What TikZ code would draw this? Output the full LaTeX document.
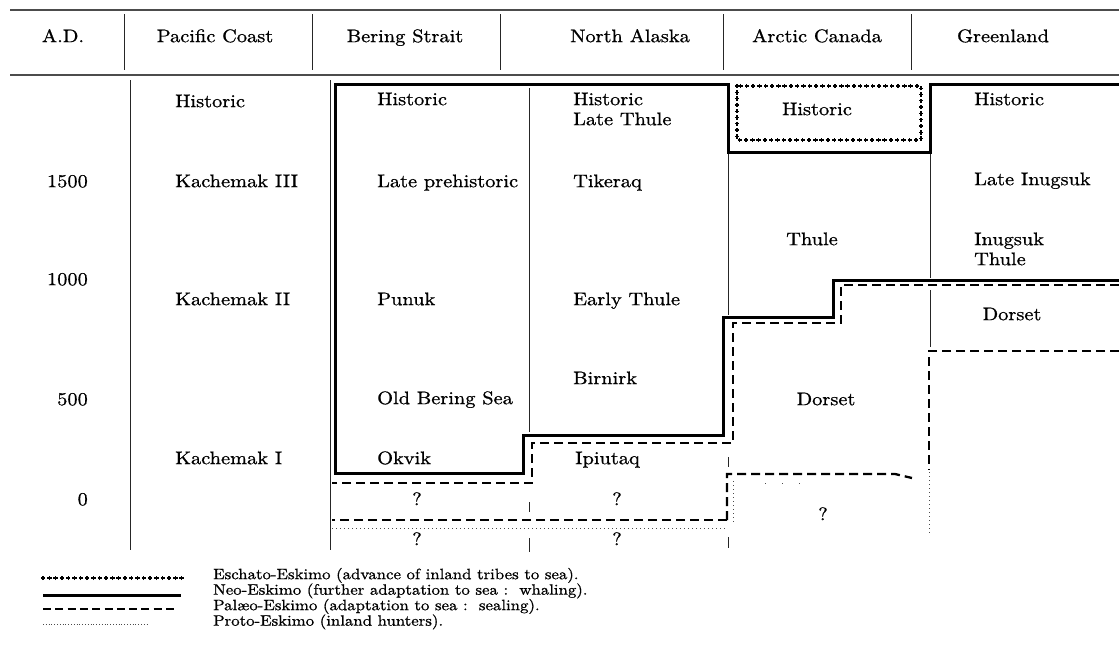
\documentclass[tikz,border=0pt]{standalone}
\usepackage{fontspec}
\setmainfont{lmroman10-regular.otf}[FakeStretch=1.12,FakeBold=0.9]
\usetikzlibrary{decorations.markings}
\tikzset{
  lab/.style={anchor=mid west, inner sep=0pt, font=\fontsize{18.2}{20}\selectfont},
  hdr/.style={anchor=mid, inner sep=0pt, font=\fontsize{18.2}{20}\selectfont},
  num/.style={anchor=mid east, inner sep=0pt, font=\fontsize{18.2}{20}\selectfont},
  lgd/.style={anchor=mid west, inner sep=0pt, font=\fontsize{15}{15}\selectfont},
  rulel/.style={line width=1.1pt, black!70},
  thin/.style={line width=0.8pt, black!85},
  neo/.style={line width=3pt, line join=miter},
  palaeo/.style={line width=2.3pt, dash pattern=on 9pt off 5pt},
  proto/.style={line width=0.9pt, black!70, dash pattern=on 1pt off 3pt},
  eschato/.style={postaction={decorate, decoration={markings,
      mark=between positions 0 and 1 step 6.3pt with {
        \draw[line width=1.3pt] (-2.2pt,0) -- (2.2pt,0) (0,-2.2pt) -- (0,2.2pt);}}}}
}
\begin{document}
\begin{tikzpicture}[x=1pt,y=-1pt]
\useasboundingbox (0,0) rectangle (1119,646);
% header rules
\draw[rulel] (10,10) -- (1119,10);
\draw[rulel] (10,75) -- (1119,75);
\foreach \xx in {124,312,500,723,911} \draw[thin] (\xx,14) -- (\xx,70);
\node[hdr] (hAD) at (63,40) {A.D.};
\node[hdr] (hPC) at (215,40) {Pacific Coast};
\node[hdr] (hBS) at (405,40) {Bering Strait};
\node[hdr] (hNA) at (630,40) {North Alaska};
\node[hdr] (hAC) at (817,40) {Arctic Canada};
\node[hdr] (hGL) at (1003,40) {Greenland};
% body thin column lines
\draw[thin] (130,80) -- (130,550);
\draw[thin] (330,80) -- (330,550);
\draw[thin] (529,88) -- (529,432) (529,502) -- (529,512) (529,538) -- (529,552);
\draw[thin] (728,152) -- (728,315) (728,457) -- (728,467) (728,537) -- (728,548);
\draw[thin] (930,152) -- (930,278) (930,290) -- (930,347);
% Neo-Eskimo
\draw[neo] (1119,280) -- (833,280) -- (833,317) -- (723,317) -- (723,435) -- (523,435)
  -- (523,473) -- (335,473) -- (335,84) -- (728,84) -- (728,152) -- (930,152) -- (930,84) -- (1119,84);
% Palaeo-Eskimo
\draw[palaeo] (1119,285) -- (841,285) -- (841,323) -- (733,323) -- (733,443) -- (532,443) -- (532,483) -- (332,483);
\draw[palaeo] (1119,351) -- (929,351) -- (929,470);
\draw[palaeo] (727,520) -- (727,474) -- (895,474) -- (912,478);
\draw[palaeo] (727,520) -- (332,520);
% Proto-Eskimo
\draw[proto] (332,528) -- (728,528);
\draw[proto] (733,481) -- (733,523);
\draw[proto] (929,472) -- (929,535);
\draw[proto, dash pattern=on 1pt off 16pt] (765,483) -- (810,483);
% Eschato-Eskimo
\path[eschato] (737,86) rectangle (921,140);
% dates
\node[num] (d1500) at (88,185) {1500};
\node[num] (d1000) at (88,283) {1000};
\node[num] (d500) at (88,403) {500};
\node[num] (d0) at (88,503) {0};
% Pacific Coast
\node[lab] (pc1) at (175,105) {Historic};
\node[lab] (pc2) at (175,185) {Kachemak III};
\node[lab] (pc3) at (175,303) {Kachemak II};
\node[lab] (pc4) at (175,462) {Kachemak I};
% Bering Strait
\node[lab] (bs1) at (377,103) {Historic};
\node[lab] (bs2) at (377,185) {Late prehistoric};
\node[lab] (bs3) at (377,303) {Punuk};
\node[lab] (bs4) at (377,402) {Old Bering Sea};
\node[lab] (bs5) at (377,462) {Okvik};
\node[hdr] (bsq1) at (417,503) {?};
\node[hdr] (bsq2) at (417,543) {?};
% North Alaska
\node[lab] (na1) at (573,103) {Historic};
\node[lab] (na2) at (573,123) {Late Thule};
\node[lab] (na3) at (573,185) {Tikeraq};
\node[lab] (na4) at (573,303) {Early Thule};
\node[lab] (na5) at (573,382) {Birnirk};
\node[lab] (na6) at (575,462) {Ipiutaq};
\node[hdr] (naq1) at (617,503) {?};
\node[hdr] (naq2) at (617,543) {?};
% Arctic Canada
\node[hdr] (ac1) at (817,113) {Historic};
\node[hdr] (ac2) at (812,243) {Thule};
\node[hdr] (ac3) at (826,403) {Dorset};
\node[hdr] (acq) at (823,518) {?};
% Greenland
\node[lab] (gl1) at (974,103) {Historic};
\node[lab] (gl2) at (974,183) {Late Inugsuk};
\node[lab] (gl3) at (974,243) {Inugsuk};
\node[lab] (gl4) at (974,263) {Thule};
\node[hdr] (gl5) at (1012,318) {Dorset};
% legend
\coordinate (l1a) at (43,578); \coordinate (l1b) at (182,578);
\coordinate (l2a) at (43,595); \coordinate (l2b) at (181,595);
\coordinate (l3a) at (43,609); \coordinate (l3b) at (178,609);
\coordinate (l4a) at (43,624); \coordinate (l4b) at (147,624);
\path[eschato] (l1a) -- (l1b);
\draw[neo] (l2a) -- (l2b);
\draw[palaeo, dash pattern=on 8pt off 4.3pt] (l3a) -- (l3b);
\draw[proto, dash pattern=on 0.8pt off 2pt] (l4a) -- (l4b);
\node[lgd] (t1) at (213,577) {Eschato-Eskimo (advance of inland tribes to sea).};
\node[lgd] (t2) at (213,592.5) {Neo-Eskimo (further adaptation to sea :\ \ whaling).};
\node[lgd] (t3) at (213,608) {Palæo-Eskimo (adaptation to sea :\ \ sealing).};
\node[lgd] (t4) at (213,623.5) {Proto-Eskimo (inland hunters).};
\end{tikzpicture}
\end{document}
